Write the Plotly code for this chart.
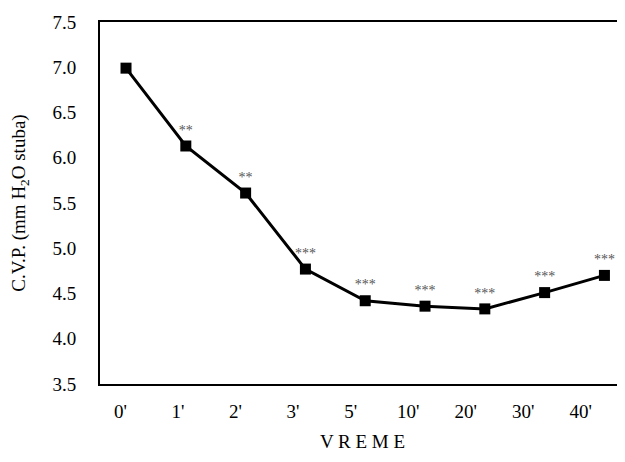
import plotly.graph_objects as go

categories = ["0'", "1'", "2'", "3'", "5'", "10'", "20'", "30'", "40'"]
cvp_values = [6.99, 6.13, 5.61, 4.77, 4.42, 4.36, 4.33, 4.51, 4.70]
significance = ["", "**", "**", "***", "***", "***", "***", "***", "***"]
y_ticks = [3.5, 4.0, 4.5, 5.0, 5.5, 6.0, 6.5, 7.0, 7.5]

idx = list(range(len(categories)))
FONT = "'Times New Roman', 'Liberation Serif', serif"

fig = go.Figure()
# invisible trace so the label axis (x) exists
fig.add_trace(go.Scatter(
    x=idx, y=[None] * len(idx), xaxis="x", yaxis="y",
    mode="markers", showlegend=False, hoverinfo="skip",
))
fig.add_trace(go.Scatter(
    x=idx, y=cvp_values, xaxis="x2", yaxis="y",
    mode="lines+markers+text",
    line=dict(color="black", width=3),
    marker=dict(symbol="square", size=11, color="black"),
    text=significance, textposition="top center",
    textfont=dict(family=FONT, size=14, color="#555555"),
    cliponaxis=False, showlegend=False,
))

# page body has an 8px default margin, so the figure is offset by 8px
fig.update_layout(
    width=617, height=454,
    margin=dict(l=92, r=0, t=14, b=78, autoexpand=False),
    paper_bgcolor="white", plot_bgcolor="white",
    font=dict(family=FONT, size=19, color="black"),
    xaxis=dict(
        range=[-0.358, 8.772],
        tickvals=idx, ticktext=categories,
        showgrid=False, zeroline=False,
        showline=True, linecolor="black", linewidth=2, mirror=True,
        ticks="", ticklabelstandoff=9, automargin=False,
        tickfont=dict(family=FONT, size=19),
        title=dict(text="V R E M E", standoff=14, font=dict(family=FONT, size=19)),
    ),
    xaxis2=dict(
        range=[-0.435, 8.344], overlaying="x", visible=False,
        showgrid=False, zeroline=False,
    ),
    yaxis=dict(
        range=[3.5, 7.5], tickvals=y_ticks, tickformat=".1f",
        showgrid=False, zeroline=False,
        showline=True, linecolor="black", linewidth=2,
        ticks="", ticklabelstandoff=18, automargin=False,
        tickfont=dict(family=FONT, size=19),
        title=dict(text="C.V.P. (mm H<sub>2</sub>O stuba)", standoff=35, font=dict(family=FONT, size=19)),
    ),
)

fig.write_html("out.html")
